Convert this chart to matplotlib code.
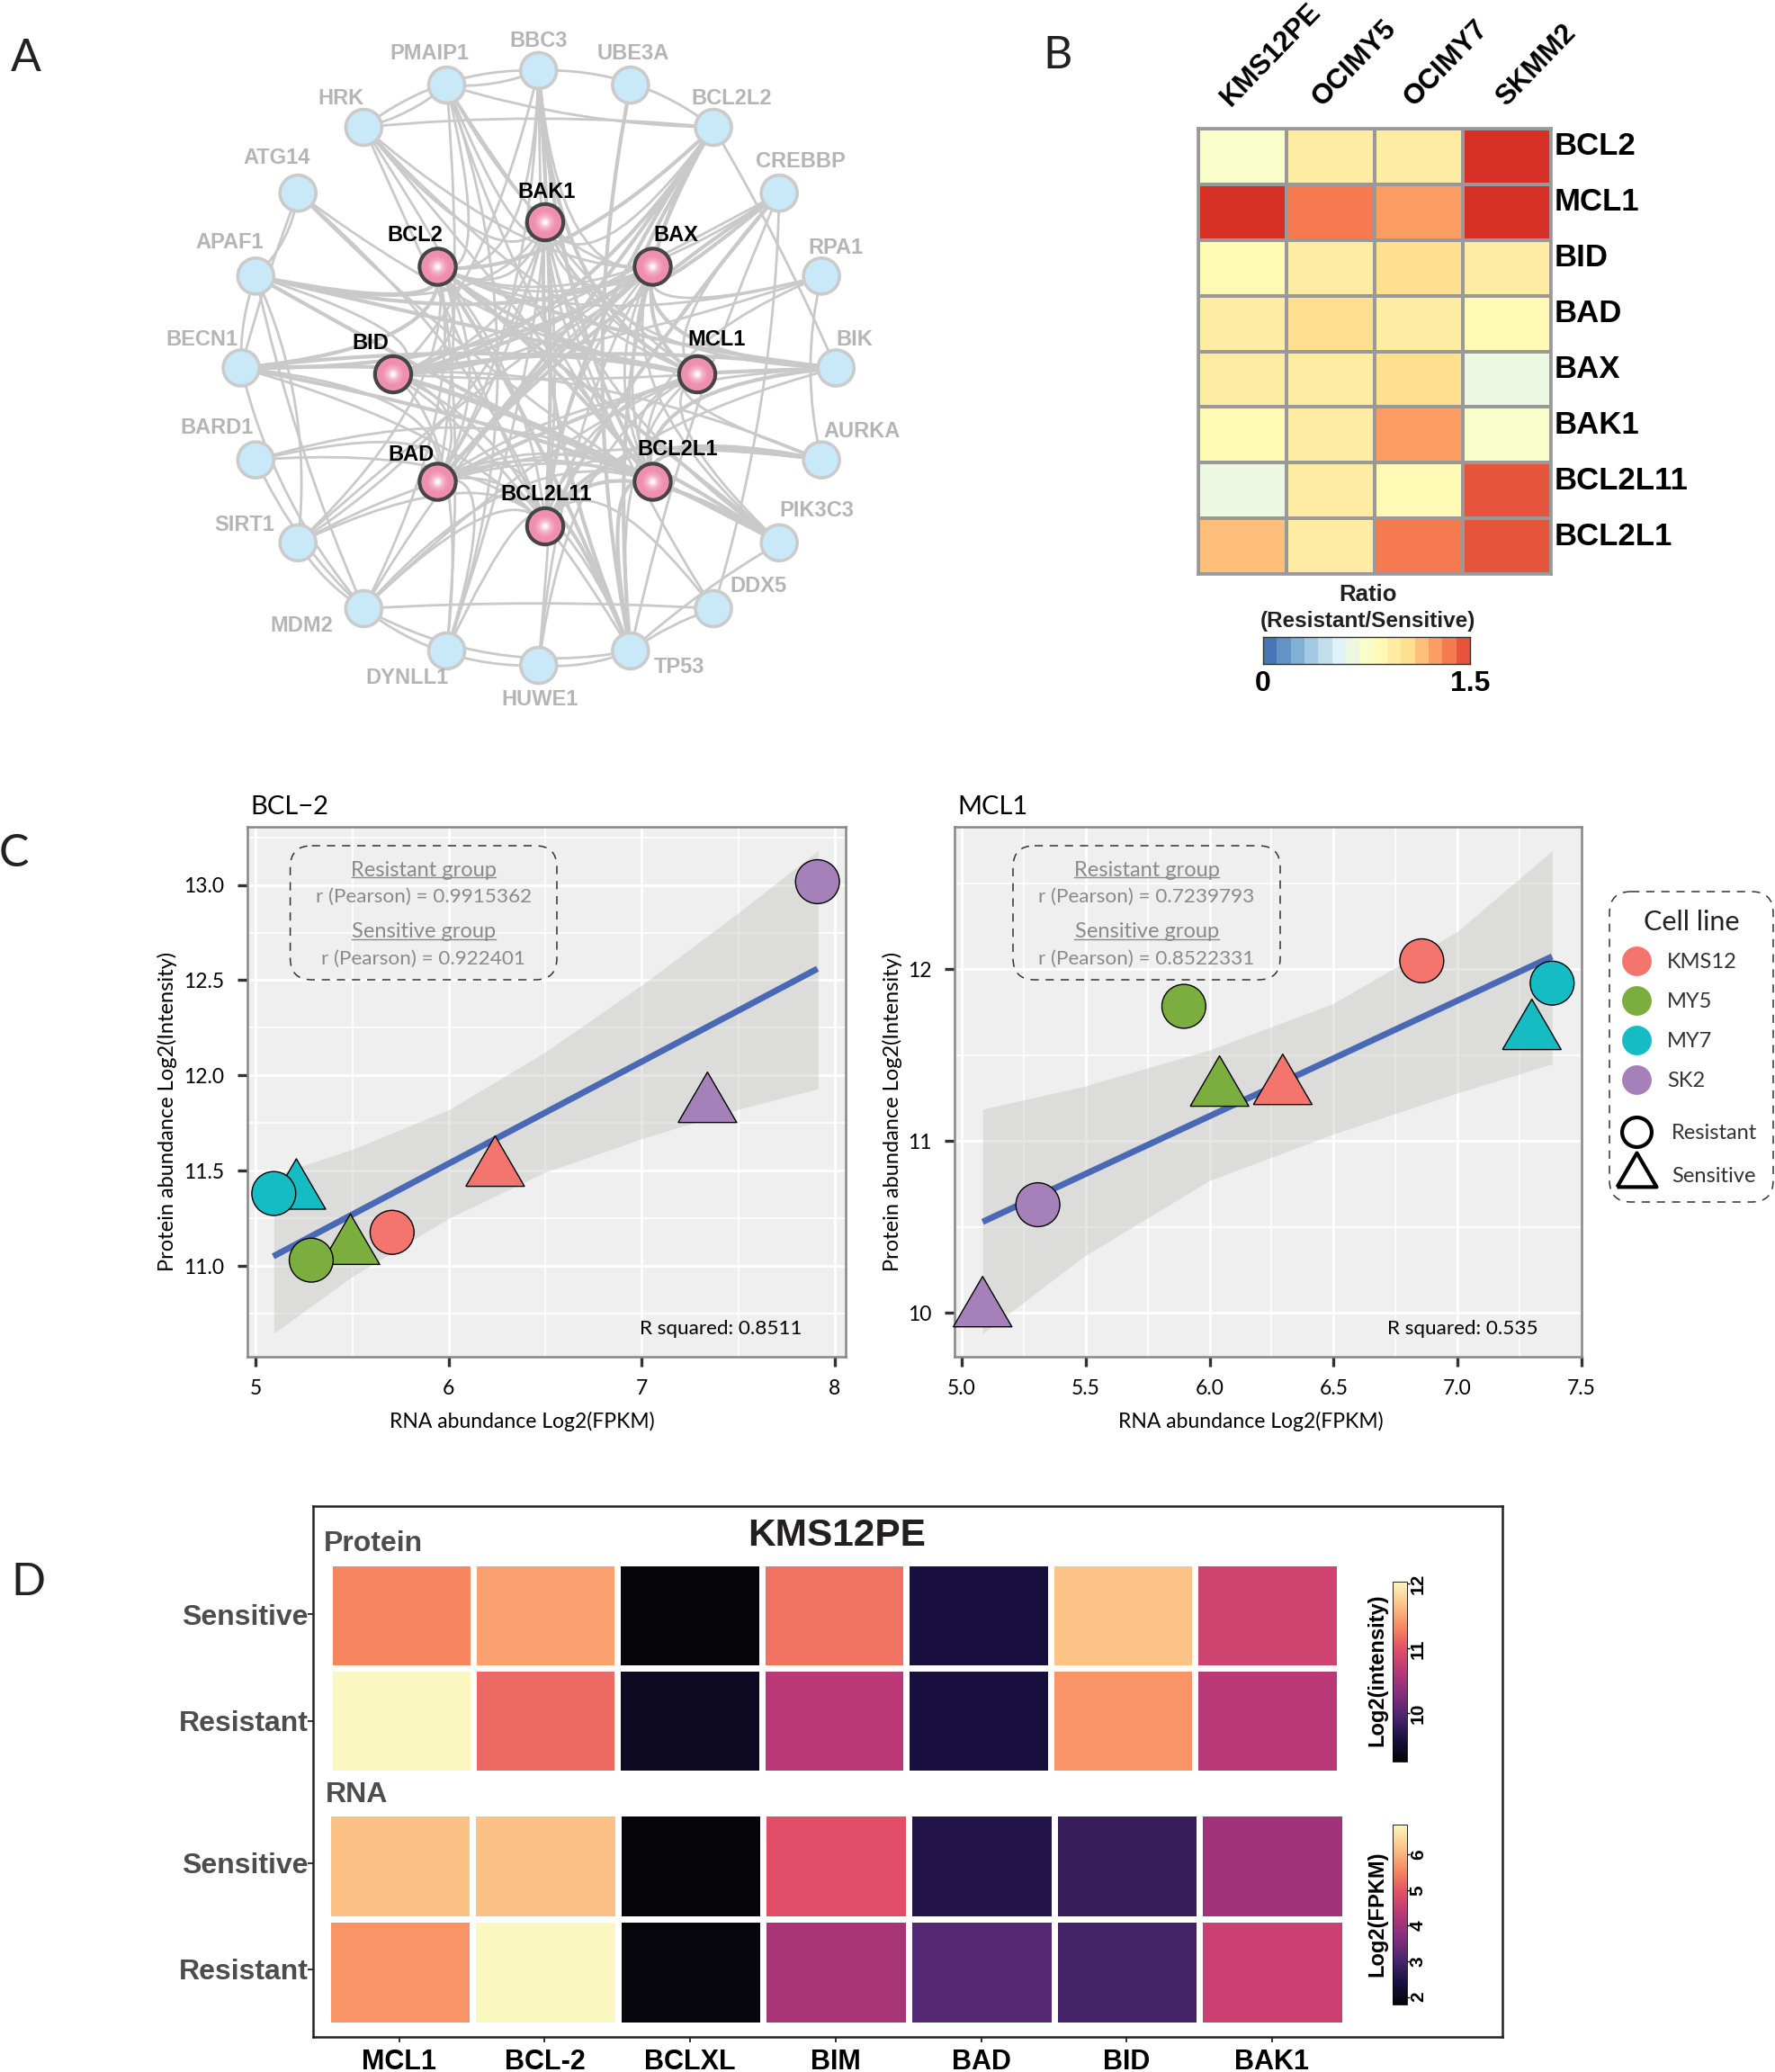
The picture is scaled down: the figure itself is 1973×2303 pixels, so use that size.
import numpy as np
import matplotlib
matplotlib.use("Agg")
import matplotlib.pyplot as plt
from matplotlib.colors import LinearSegmentedColormap, ListedColormap, BoundaryNorm
from matplotlib.patches import Circle, FancyBboxPatch, PathPatch
from matplotlib.path import Path

plt.rcParams['font.family'] = ['Lato', 'DejaVu Sans']

W, H = 1973, 2303
BOLD = 'Liberation Sans'

# PANEL A DATA #

outer_nodes = ['BBC3', 'PMAIP1', 'HRK', 'ATG14', 'APAF1', 'BECN1', 'BARD1', 'SIRT1', 'MDM2', 'DYNLL1',
               'HUWE1', 'TP53', 'DDX5', 'PIK3C3', 'AURKA', 'BIK', 'RPA1', 'CREBBP', 'BCL2L2', 'UBE3A']
inner_nodes = ['BAK1', 'BCL2', 'BID', 'BAD', 'BCL2L11', 'BCL2L1', 'MCL1', 'BAX']

partners_thick = {
    'BCL2L2': ['BAX', 'MCL1', 'BAD', 'BCL2L11', 'BID', 'BCL2'],
    'APAF1': ['BCL2', 'BAX', 'MCL1', 'BCL2L1'],
    'BECN1': ['BCL2', 'BAX', 'MCL1', 'BCL2L1', 'BID'],
    'BIK': ['BCL2', 'BAX', 'BID', 'MCL1', 'BCL2L1'],
    'CREBBP': ['BAX', 'BAD', 'BCL2L11'],
    'BBC3': ['BCL2L1', 'BCL2L11', 'MCL1'],
    'TP53': ['BCL2', 'BAX', 'BAK1', 'BCL2L1', 'BCL2L11'],
    'PIK3C3': ['BCL2', 'BID', 'BCL2L11', 'BCL2L1'],
    'AURKA': ['BCL2L11', 'BCL2L1'],
    'UBE3A': ['TP53'],
    'BCL2': ['BCL2L1', 'MCL1'],
    'BAD': ['BAX', 'MCL1'],
    'BID': ['BAX', 'BCL2L1'],
}
partners_thin = {
    'BCL2L2': ['BCL2L1', 'BAK1', 'HRK', 'PMAIP1', 'BBC3', 'BIK'],
    'APAF1': ['BAK1', 'BID', 'BECN1', 'SIRT1', 'MDM2'],
    'BECN1': ['BAD', 'BCL2L11', 'ATG14', 'MDM2'],
    'BIK': ['BAK1', 'BAD', 'BCL2L11'],
    'RPA1': ['BAX', 'BCL2', 'BCL2L1', 'BID', 'AURKA'],
    'CREBBP': ['MCL1', 'BID', 'BCL2', 'TP53', 'DDX5'],
    'ATG14': ['BCL2L1', 'BCL2L11', 'MCL1', 'APAF1'],
    'HRK': ['BCL2', 'BAX', 'BAK1', 'BCL2L1', 'BCL2L11', 'MCL1', 'PMAIP1', 'BBC3'],
    'PMAIP1': ['BCL2L1', 'MCL1', 'BCL2', 'BAX', 'BAD', 'BAK1', 'BBC3', 'DYNLL1'],
    'BBC3': ['BAX', 'BCL2', 'BAK1', 'BAD', 'BID'],
    'BARD1': ['BAD', 'BCL2L11', 'BCL2L1', 'MDM2'],
    'SIRT1': ['BAX', 'BCL2L11', 'BCL2L1', 'BAK1', 'BCL2', 'MDM2'],
    'MDM2': ['BAX', 'BCL2L11', 'BCL2L1', 'MCL1', 'BCL2', 'TP53', 'DDX5'],
    'DYNLL1': ['BCL2L11', 'BCL2', 'BAD', 'BID', 'BAK1'],
    'HUWE1': ['MCL1', 'BCL2L11', 'BAX', 'TP53', 'MDM2'],
    'TP53': ['BAD', 'BID', 'MCL1', 'DDX5'],
    'DDX5': ['BCL2L11', 'BAK1'],
    'PIK3C3': ['BAD', 'BAK1', 'MCL1', 'BAX', 'TP53'],
    'AURKA': ['BAD', 'BID', 'MCL1'],
    'BAK1': ['BAX', 'MCL1', 'BCL2L1', 'BCL2L11', 'BAD', 'BID', 'BCL2'],
    'BAX': ['BCL2L1', 'BCL2L11', 'BID', 'BCL2'],
    'MCL1': ['BCL2L1', 'BCL2L11', 'BID'],
    'BCL2L1': ['BCL2L11', 'BAD'],
    'BCL2L11': ['BAD', 'BID', 'BCL2'],
    'BAD': ['BID', 'BCL2'],
    'BID': ['BCL2'],
}

outer_labels = {'PMAIP1': (477, 58), 'BBC3': (599, 44), 'UBE3A': (704, 58), 'HRK': (379, 108), 'BCL2L2': (813, 108),
                'ATG14': (308, 174), 'CREBBP': (890, 178), 'APAF1': (255, 268), 'RPA1': (929, 273), 'BECN1': (224, 376),
                'BIK': (950, 376), 'BARD1': (241, 473), 'AURKA': (958, 478), 'SIRT1': (272, 581), 'PIK3C3': (908, 566),
                'DDX5': (843, 650), 'MDM2': (335, 694), 'TP53': (755, 740), 'DYNLL1': (452, 752), 'HUWE1': (600, 775)}
inner_labels = {'BAK1': (608, 212), 'BCL2': (461, 260), 'BAX': (751, 260), 'BID': (412, 379), 'MCL1': (797, 376),
                'BAD': (457, 503), 'BCL2L1': (753, 498), 'BCL2L11': (607, 548)}

# PANEL B DATA #

ratio_cols = ['KMS12PE', 'OCIMY5', 'OCIMY7', 'SKMM2']
ratio_rows = ['BCL2', 'MCL1', 'BID', 'BAD', 'BAX', 'BAK1', 'BCL2L11', 'BCL2L1']
ratio_vals = [[0.75, 0.95, 0.95, 1.55],
              [1.55, 1.35, 1.25, 1.55],
              [0.85, 0.95, 1.05, 0.95],
              [0.95, 1.05, 0.95, 0.85],
              [0.95, 0.95, 1.05, 0.65],
              [0.85, 0.95, 1.25, 0.75],
              [0.65, 0.95, 0.85, 1.45],
              [1.15, 0.95, 1.35, 1.45]]
ramp_colors = ['#4575b4', '#91bfdb', '#e0f3f8', '#ffffbf', '#fee090', '#fc8d59', '#d73027']

# PANEL C DATA #

cell_lines = ['KMS12', 'MY5', 'MY7', 'SK2']
line_colors = ['#f4756d', '#7cae3f', '#15bcc3', '#a680b9']

bcl2_res_x = [5.706, 5.287, 5.093, 7.91]
bcl2_res_y = [11.176, 11.03, 11.38, 13.017]
bcl2_sen_x = [6.24, 5.49, 5.21, 7.34]
bcl2_sen_y = [11.55, 11.14, 11.43, 11.885]
bcl2_fit_x = [5.09, 7.91]
bcl2_fit_y = [11.05, 12.56]
bcl2_band_x = [5.093, 5.495, 6.0, 6.495, 7.007, 7.494, 7.913]
bcl2_band_hi = [11.477, 11.61, 11.82, 12.12, 12.48, 12.85, 13.18]
bcl2_band_lo = [10.646, 10.94, 11.25, 11.49, 11.67, 11.82, 11.93]

mcl1_res_x = [6.856, 5.896, 7.382, 5.307]
mcl1_res_y = [12.05, 11.785, 11.92, 10.63]
mcl1_sen_x = [6.295, 6.04, 7.30, 5.084]
mcl1_sen_y = [11.36, 11.35, 11.68, 10.066]
mcl1_fit_x = [5.084, 7.382]
mcl1_fit_y = [10.53, 12.075]
mcl1_band_x = [5.084, 5.494, 5.998, 6.497, 6.998, 7.382]
mcl1_band_hi = [11.186, 11.32, 11.53, 11.80, 12.22, 12.69]
mcl1_band_lo = [9.88, 10.33, 10.77, 11.04, 11.28, 11.45]

# PANEL D DATA #

genes = ['MCL1', 'BCL-2', 'BCLXL', 'BIM', 'BAD', 'BID', 'BAK1']
groups = ['Sensitive', 'Resistant']
protein_vals = [[11.32, 11.48, 9.29, 11.21, 9.59, 11.68, 10.82],
                [12.04, 11.15, 9.43, 10.66, 9.59, 11.41, 10.65]]
rna_vals = [[6.16, 6.16, 1.84, 4.90, 2.55, 2.80, 4.01],
            [5.68, 6.84, 1.87, 4.11, 3.15, 2.95, 4.57]]
heat_stops = ['#040406', '#191041', '#4c2670', '#872e7c', '#b93878', '#e44f66', '#f8895f', '#fcc587', '#faf7c0']


# FUNCTIONS #

def axpx(x0, y0, x1, y1):
    # axes from pixel corners of the page, y going down
    return fig.add_axes([x0 / W, 1 - y1 / H, (x1 - x0) / W, (y1 - y0) / H])


def note(x, y, s, **kw):
    # text on the page overlay, matplotlib centres a little high
    return ov.text(x, y + 3, s, **kw)


def ring(names, cx, cy, r, start, step):
    pos = {}
    for i, n in enumerate(names):
        a = np.radians(start + step * i)
        pos[n] = (cx - r * np.sin(a), cy - r * np.cos(a))
    return pos


def draw_edges(edges, lw, offset):
    bends = [0.10, -0.14, 0.05, -0.07, 0.18, -0.03, 0.12, -0.18]
    k = offset
    for a, others in edges.items():
        for b in others:
            (x0, y0), (x1, y1) = pos[a], pos[b]
            bend = bends[k % len(bends)]
            k += 1
            mx, my = (x0 + x1) / 2 - bend * (y1 - y0), (y0 + y1) / 2 + bend * (x1 - x0)
            # edges are bundled towards the middle of the network, not along the rim
            if a in inner_nodes or b in inner_nodes:
                mx += 0.55 * (606 - mx)
                my += 0.55 * (416 - my)
            p = Path([(x0, y0), (mx, my), (x1, y1)], [Path.MOVETO, Path.CURVE3, Path.CURVE3])
            ov.add_patch(PathPatch(p, fc='none', ec='#c9c9c9', lw=lw, zorder=1))


def scatter_panel(ax, res_x, res_y, sen_x, sen_y, fit_x, fit_y, band_x, band_hi, band_lo):
    ax.set_facecolor('#efefef')
    ax.grid(which='major', color='white', lw=2)
    ax.grid(which='minor', color='white', lw=1.2)
    ax.set_axisbelow(True)
    ax.fill_between(band_x, band_lo, band_hi, color='#c4c4c0', alpha=0.42, lw=0, zorder=2)
    ax.plot(fit_x, fit_y, color='#4a69b5', lw=5, solid_capstyle='butt', zorder=3)
    ax.scatter(sen_x, sen_y, s=2200, marker=tri, c=line_colors, edgecolors='black', linewidths=1, zorder=4, clip_on=False)
    ax.scatter(res_x, res_y, s=1235, marker='o', c=line_colors, edgecolors='black', linewidths=1, zorder=5, clip_on=False)
    for s in ax.spines.values():
        s.set_color('#868686')
        s.set_linewidth(1.8)
    ax.tick_params(which='major', length=8, width=2.4, color='#333333', labelsize=16.5, pad=10)
    ax.tick_params(which='minor', length=0)


def dashed_box(x0, y0, x1, y1, rounding=24):
    ov.add_patch(FancyBboxPatch((x0, y0), x1 - x0, y1 - y0, boxstyle='round,pad=0,rounding_size=%d' % rounding,
                                fc='none', ec='#333333', lw=1.1, ls=(0, (6, 5)), zorder=6))


def pearson_note(cx, x0, x1, top, bottom):
    gray = '#8a8a8a'
    note(cx, 964, 'Resistant group', ha='center', va='center', fontsize=17, color=gray)
    note(cx, 994, top, ha='center', va='center', fontsize=16.2, color=gray)
    note(cx, 1033, 'Sensitive group', ha='center', va='center', fontsize=17, color=gray)
    note(cx, 1063, bottom, ha='center', va='center', fontsize=16.2, color=gray)
    ov.plot([x0, x1], [975, 975], color=gray, lw=1)
    ov.plot([x0, x1], [1044, 1044], color=gray, lw=1)


# PROGRAM #

fig = plt.figure(figsize=(W / 100, H / 100), dpi=100)

# page overlay in pixels, used for panel A and loose annotations
ov = fig.add_axes([0, 0, 1, 1], zorder=10)
ov.set_xlim(0, W)
ov.set_ylim(H, 0)
ov.axis('off')

for letter, x, y in [('A', 29, 62), ('B', 1176, 59), ('C', 15, 946), ('D', 31, 1756)]:
    note(x, y, letter, fontsize=36, ha='center', va='center', color='#222222')

# panel A
pos = ring(outer_nodes, 598.7, 409, 330.6, 0, 18)
pos.update(ring(inner_nodes, 606, 416, 169, 0, 45))
draw_edges(partners_thin, 2.0, 0)
draw_edges(partners_thick, 3.0, 3)

for n in outer_nodes:
    ov.add_patch(Circle(pos[n], 20, fc='#c9e9f9', ec='#cbcbcb', lw=2.6, zorder=3))
pink = LinearSegmentedColormap.from_list('pink_node', ['#ee8fae', '#f08fb0', '#f5b4c9', '#ffffff'])
for n in inner_nodes:
    ov.add_patch(Circle(pos[n], 20, fc='#ee8fae', ec='#454545', lw=3.2, zorder=3))
    for k, r in enumerate(np.linspace(18, 1.5, 14)):
        ov.add_patch(Circle(pos[n], r, fc=pink(k / 13), ec='none', zorder=4))

for n, (x, y) in outer_labels.items():
    note(x, y - 1, n, ha='center', va='center', fontsize=17, family=BOLD, weight='bold', color='#b5b5b5', zorder=5)
for n, (x, y) in inner_labels.items():
    note(x, y - 1, n, ha='center', va='center', fontsize=17, family=BOLD, weight='bold', color='black', zorder=5)

# panel B
ramp = LinearSegmentedColormap.from_list('ratio_ramp', ramp_colors)
ratio_cmap = ListedColormap([ramp(i / 15) for i in range(16)])
ratio_norm = BoundaryNorm(np.arange(0, 1.65, 0.1), 16)

ax_b = axpx(1332, 143, 1724, 638)
ax_b.pcolormesh(np.array(ratio_vals), cmap=ratio_cmap, norm=ratio_norm, edgecolors='#999999', linewidth=2.6)
ax_b.invert_yaxis()
ax_b.set_xticks([])
ax_b.set_yticks([])
for s in ax_b.spines.values():
    s.set_color('#999999')
    s.set_linewidth(2.6)

# row labels sit a little above the middle of their cells
for i, name in enumerate(ratio_rows):
    ov.text(1728, 163 + 61.9 * i, name, ha='left', va='center', fontsize=25, family=BOLD, weight='bold', color='black')

for i, name in enumerate(ratio_cols):
    ov.text(1368 + 102 * i, 119, name, rotation=46, rotation_mode='anchor', ha='left', va='baseline',
            fontsize=22.5, family=BOLD, weight='bold', color='black')

note(1520, 658, 'Ratio', ha='center', va='center', fontsize=18.5, family=BOLD, weight='bold', color='#231f20')
note(1520, 687, '(Resistant/Sensitive)', ha='center', va='center', fontsize=17.5, family=BOLD, weight='bold', color='#231f20')

ax_bc = axpx(1404, 708, 1634, 738)
levels = np.arange(0, 1.55, 0.1)
ax_bc.pcolormesh(levels, [0, 1], (levels[:-1] + 0.05).reshape(1, -1), cmap=ratio_cmap, norm=ratio_norm)
ax_bc.set_yticks([])
ax_bc.set_xticks([0, 1.5], ['0', '1.5'], fontsize=23, family=BOLD, weight='bold')
ax_bc.tick_params(axis='x', length=0, pad=5)
for s in ax_bc.spines.values():
    s.set_linewidth(1)
    s.set_color('#333333')

# panel C
tri = [(-1, -0.86), (1, -0.86), (0, 0.86), (-1, -0.86)]

ax_c1 = axpx(274.5, 919, 940, 1508)
scatter_panel(ax_c1, bcl2_res_x, bcl2_res_y, bcl2_sen_x, bcl2_sen_y, bcl2_fit_x, bcl2_fit_y,
              bcl2_band_x, bcl2_band_hi, bcl2_band_lo)
ax_c1.set_xlim(4.954, 8.056)
ax_c1.set_ylim(10.523, 13.305)
ax_c1.set_xticks([5, 6, 7, 8])
ax_c1.set_xticks([5.5, 6.5, 7.5], minor=True)
ax_c1.set_yticks([11, 11.5, 12, 12.5, 13], ['11.0', '11.5', '12.0', '12.5', '13.0'])
ax_c1.set_yticks([10.75, 11.25, 11.75, 12.25, 12.75, 13.25], minor=True)

ax_c2 = axpx(1060.8, 919, 1757.8, 1508)
scatter_panel(ax_c2, mcl1_res_x, mcl1_res_y, mcl1_sen_x, mcl1_sen_y, mcl1_fit_x, mcl1_fit_y,
              mcl1_band_x, mcl1_band_hi, mcl1_band_lo)
ax_c2.set_xlim(4.97, 7.498)
ax_c2.set_ylim(9.745, 12.83)
ax_c2.set_xticks([5, 5.5, 6, 6.5, 7, 7.5], ['5.0', '5.5', '6.0', '6.5', '7.0', '7.5'])
ax_c2.set_xticks([5.25, 5.75, 6.25, 6.75, 7.25], minor=True)
ax_c2.set_yticks([10, 11, 12], ['10', '11', '12'])
ax_c2.set_yticks([10.5, 11.5, 12.5], minor=True)

note(278, 894, 'BCL\u22122', fontsize=21, va='center', color='black')
note(1064, 894, 'MCL1', fontsize=21, va='center', color='black')
note(580, 1577, 'RNA abundance Log2(FPKM)', fontsize=16.5, ha='center', va='center')
note(1390, 1577, 'RNA abundance Log2(FPKM)', fontsize=16.5, ha='center', va='center')
ov.text(186, 1235, 'Protein abundance Log2(Intensity)', fontsize=17, rotation=90, ha='center', va='center')
ov.text(992, 1235, 'Protein abundance Log2(Intensity)', fontsize=17, rotation=90, ha='center', va='center')
note(801, 1474, 'R squared: 0.8511', fontsize=16.2, ha='center', va='center')
note(1626, 1474, 'R squared: 0.535', fontsize=16.2, ha='center', va='center')

dashed_box(322.6, 940, 619, 1089)
pearson_note(470.6, 390.6, 551, 'r (Pearson) = 0.9915362', 'r (Pearson) = 0.922401')
dashed_box(1126, 940, 1423, 1089)
pearson_note(1274.6, 1194, 1355, 'r (Pearson) = 0.7239793', 'r (Pearson) = 0.8522331')

# legend of panel C
dashed_box(1789, 991, 1971, 1336)
note(1880, 1022, 'Cell line', fontsize=22, ha='center', va='center', color='#222222')
legend_y = [1068, 1112, 1156, 1200]
for name, c, y in zip(cell_lines, line_colors, legend_y):
    ov.scatter([1819], [y], s=560, c=c, linewidths=0, zorder=7)
    note(1853, y - 1, name, fontsize=17, va='center', color='#333333')
ov.scatter([1819], [1258], s=560, facecolors='white', edgecolors='black', linewidths=3, zorder=7)
ov.scatter([1819], [1300], s=1000, marker=tri, facecolors='white', edgecolors='black', linewidths=3, zorder=7)
note(1858, 1257, 'Resistant', fontsize=17, va='center', color='#333333')
note(1858, 1304, 'Sensitive', fontsize=17, va='center', color='#333333')

# panel D
heat_cmap = LinearSegmentedColormap.from_list('heat', heat_stops)

ax_frame = axpx(348, 1674, 1670, 2263.5)
ax_frame.set_xlim((348 - 443.8) / 161.7, (1670 - 443.8) / 161.7)
ax_frame.set_ylim(2263.5, 1674)
ax_frame.set_xticks(np.arange(len(genes)), genes, fontsize=22, family=BOLD, weight='bold')
ax_frame.set_yticks([1794, 1913, 2071, 2189], groups + groups, fontsize=23, family=BOLD, weight='bold', color='#4d4d4d')
ax_frame.tick_params(axis='both', length=4, width=1.4, color='#333333')
ax_frame.tick_params(axis='y', pad=0)
ax_frame.tick_params(axis='x', pad=6)
for s in ax_frame.spines.values():
    s.set_linewidth(1.8)
    s.set_color('#222222')

ax_prot = axpx(365.5, 1737, 1488.5, 1971)
m_prot = ax_prot.pcolormesh(np.array(protein_vals), cmap=heat_cmap, vmin=9.26, vmax=12.04, edgecolors='white', linewidth=4.9)
ax_prot.invert_yaxis()
ax_prot.axis('off')

ax_rna = axpx(363.5, 2015, 1495, 2251)
m_rna = ax_rna.pcolormesh(np.array(rna_vals), cmap=heat_cmap, vmin=1.79, vmax=6.84, edgecolors='white', linewidth=4.9)
ax_rna.invert_yaxis()
ax_rna.axis('off')

note(360, 1713, 'Protein', fontsize=23, family=BOLD, weight='bold', color='#4d4d4d', va='center')
note(362, 1992, 'RNA', fontsize=23, family=BOLD, weight='bold', color='#4d4d4d', va='center')
note(930, 1704, 'KMS12PE', fontsize=30.5, family=BOLD, weight='bold', color='#231f20', ha='center', va='center')

for box, mesh, ticks, label, label_y in [((1548, 1757.5, 1564, 1957.5), m_prot, [10, 11, 12], 'Log2(intensity)', 1856),
                                         ((1548, 2028, 1564, 2228), m_rna, [2, 3, 4, 5, 6], 'Log2(FPKM)', 2127)]:
    cax = axpx(*box)
    cb = fig.colorbar(mesh, cax=cax, ticks=ticks)
    cb.outline.set_linewidth(0.6)
    cax.tick_params(length=2, width=1, pad=0)
    for t in cax.get_yticklabels():
        t.set_rotation(90)
        t.set_va('center')
        t.set_family(BOLD)
        t.set_weight('bold')
        t.set_fontsize(15)
    ov.text(1531, label_y, label, rotation=90, ha='center', va='center', fontsize=17, family=BOLD, weight='bold', color='black')

fig.savefig('out.png', dpi=100)
